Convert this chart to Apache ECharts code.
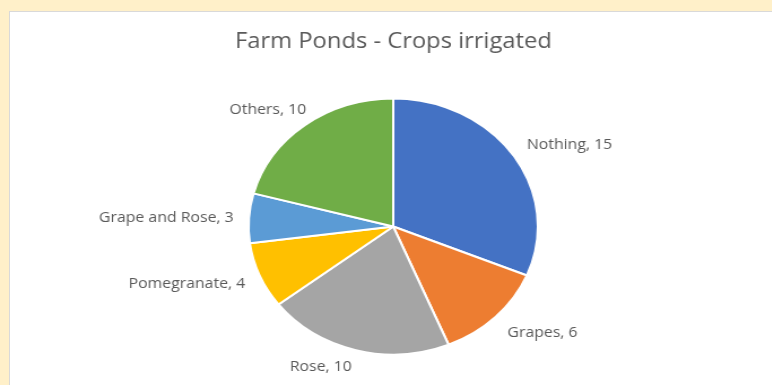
<!DOCTYPE html>
<html>
<head>
<meta charset="utf-8">
<script src="https://cdn.jsdelivr.net/npm/echarts@6/dist/echarts.min.js"></script>
<style>
  html, body { margin: 0; padding: 0; width: 772px; height: 385px; overflow: hidden; background: #fff0c9; }
  #frame { position: absolute; left: 9px; top: 11px; width: 800px; height: 400px; background: #ffffff; border-left: 1px solid #d9d9d9; border-top: 1px solid #d9d9d9; }
  #chart { position: absolute; left: 0; top: 0; width: 683px; height: 385px; transform: scaleX(1.13); transform-origin: 0 0; }
</style>
</head>
<body>
<div id="frame"></div>
<div id="chart"></div>
<script>
const titleText = 'Farm Ponds - Crops irrigated';
const categories = ['Nothing', 'Grapes', 'Rose', 'Pomegranate', 'Grape and Rose', 'Others'];
const values = [15, 6, 10, 4, 3, 10];
const colors = ['#4472C4', '#ED7D31', '#A5A5A5', '#FFC000', '#5B9BD5', '#70AD47'];
// small label nudges (px) to mimic the spreadsheet's label placement
const labelNudge = [[-3.5, -5], [-3.5, 9], [6, 7], [3.5, 5], [3.5, 1], [14, -7]];

const chart = echarts.init(document.getElementById('chart'), null, { renderer: 'canvas' });
chart.setOption({
  animation: false,
  title: {
    text: titleText,
    left: 203,
    top: 27,
    textStyle: { fontFamily: 'Open Sans', fontSize: 21, fontWeight: 'normal', color: '#595959' }
  },
  series: [{
    type: 'pie',
    center: [348, 226.5],
    radius: 128,
    startAngle: 90,
    clockwise: true,
    avoidLabelOverlap: false,
    data: categories.map((c, i) => ({
      name: c,
      value: values[i],
      itemStyle: { color: colors[i] },
      label: { offset: labelNudge[i] }
    })),
    itemStyle: { borderColor: '#ffffff', borderWidth: 2 },
    label: {
      show: true,
      position: 'outside',
      formatter: '{b}, {c}',
      fontFamily: 'Open Sans',
      fontSize: 14,
      color: '#595959'
    },
    labelLine: { show: false, length: 10, length2: 2 },
    emphasis: { disabled: true }
  }]
});
</script>
</body>
</html>
